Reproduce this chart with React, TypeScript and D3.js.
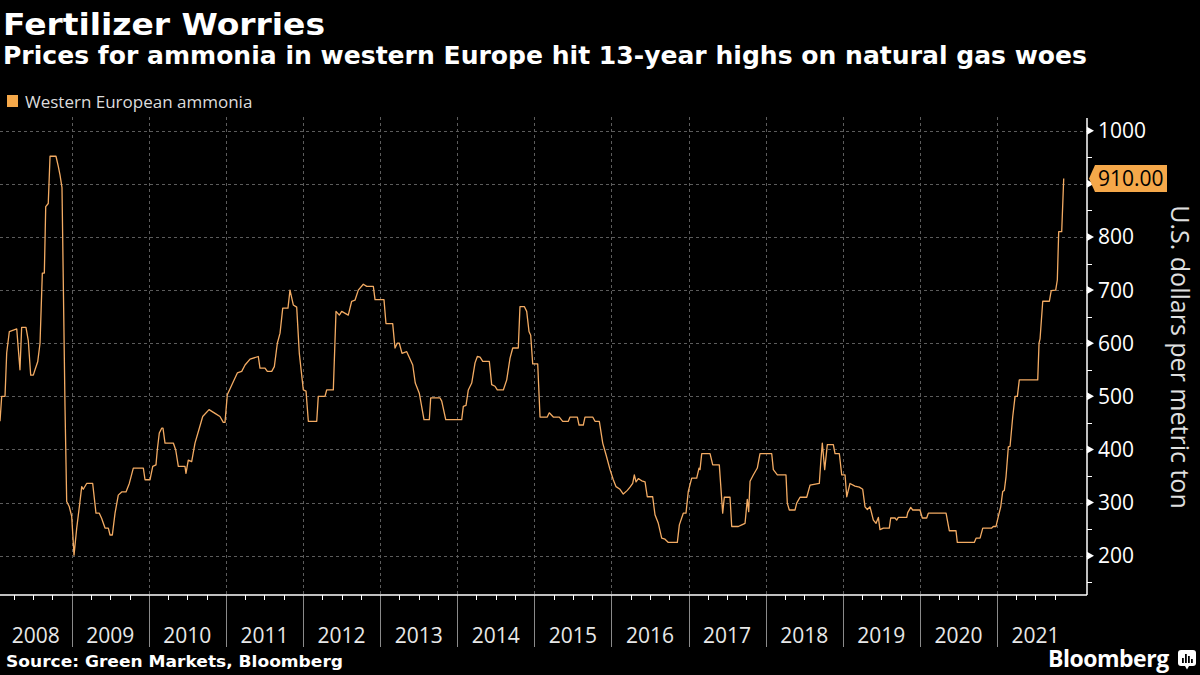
import React, { useEffect, useRef } from "react";
import * as d3 from "d3";

const title = "Fertilizer Worries";
const subtitle =
  "Prices for ammonia in western Europe hit 13-year highs on natural gas woes";
const legendLabel = "Western European ammonia";
const axisTitle = "U.S. dollars per metric ton";
const sourceNote = "Source: Green Markets, Bloomberg";

const yTicks = [200, 300, 400, 500, 600, 700, 800, 900, 1000];
const yearLabels = [
  2008, 2009, 2010, 2011, 2012, 2013, 2014, 2015, 2016, 2017, 2018, 2019, 2020, 2021,
];

// weekly price, [decimal year, USD per metric ton]
const ammonia: [number, number][] = [
  [2008.07, 453], [2008.092, 500], [2008.135, 500], [2008.157, 582], [2008.191, 622],
  [2008.287, 627], [2008.329, 550], [2008.351, 630], [2008.407, 630], [2008.437, 605],
  [2008.468, 540], [2008.502, 540], [2008.524, 550], [2008.559, 565], [2008.589, 600],
  [2008.619, 732], [2008.645, 732], [2008.663, 857], [2008.696, 863], [2008.719, 952],
  [2008.796, 952], [2008.826, 933], [2008.848, 917], [2008.874, 893], [2008.913, 481],
  [2008.935, 302], [2008.969, 292], [2009.0, 274], [2009.03, 201], [2009.065, 252],
  [2009.099, 292], [2009.13, 330], [2009.15, 325], [2009.194, 336], [2009.272, 336],
  [2009.315, 280], [2009.358, 280], [2009.389, 270], [2009.432, 252], [2009.475, 252],
  [2009.497, 239], [2009.527, 239], [2009.562, 280], [2009.604, 314], [2009.648, 320],
  [2009.704, 320], [2009.747, 336], [2009.799, 365], [2009.929, 365], [2009.951, 343],
  [2010.016, 343], [2010.051, 368], [2010.093, 371], [2010.11, 399], [2010.136, 431],
  [2010.167, 440], [2010.184, 440], [2010.21, 412], [2010.318, 412], [2010.349, 399],
  [2010.383, 368], [2010.469, 368], [2010.482, 355], [2010.512, 380], [2010.556, 377],
  [2010.599, 412], [2010.655, 440], [2010.699, 462], [2010.781, 475], [2010.859, 468],
  [2010.923, 462], [2010.966, 451], [2010.988, 451], [2011.018, 503], [2011.088, 525],
  [2011.148, 544], [2011.205, 547], [2011.248, 559], [2011.313, 570], [2011.42, 575],
  [2011.442, 553], [2011.507, 553], [2011.537, 547], [2011.594, 547], [2011.628, 556],
  [2011.667, 600], [2011.702, 619], [2011.737, 666], [2011.805, 666], [2011.831, 700],
  [2011.874, 672], [2011.918, 668], [2011.952, 581], [2012.004, 512], [2012.039, 510],
  [2012.069, 453], [2012.178, 453], [2012.198, 500], [2012.285, 500], [2012.307, 512],
  [2012.393, 512], [2012.428, 660], [2012.471, 653], [2012.502, 660], [2012.587, 653],
  [2012.631, 679], [2012.674, 681], [2012.717, 700], [2012.782, 711], [2012.826, 707],
  [2012.912, 707], [2012.934, 682], [2013.05, 682], [2013.076, 637], [2013.163, 637],
  [2013.193, 591], [2013.223, 600], [2013.249, 600], [2013.284, 581], [2013.345, 584],
  [2013.423, 559], [2013.456, 525], [2013.508, 506], [2013.569, 456], [2013.638, 456],
  [2013.656, 497], [2013.777, 497], [2013.799, 491], [2013.851, 456], [2014.058, 456],
  [2014.079, 481], [2014.114, 483], [2014.144, 512], [2014.188, 525], [2014.231, 563],
  [2014.261, 575], [2014.296, 574], [2014.331, 566], [2014.416, 566], [2014.447, 522],
  [2014.49, 519], [2014.52, 512], [2014.598, 512], [2014.642, 531], [2014.685, 572],
  [2014.72, 591], [2014.792, 591], [2014.814, 669], [2014.87, 669], [2014.901, 660],
  [2014.931, 622], [2014.953, 615], [2014.979, 561], [2015.044, 561], [2015.074, 461],
  [2015.168, 461], [2015.194, 469], [2015.246, 461], [2015.324, 461], [2015.368, 453],
  [2015.441, 453], [2015.463, 461], [2015.558, 461], [2015.58, 446], [2015.635, 446],
  [2015.657, 461], [2015.757, 461], [2015.787, 453], [2015.843, 453], [2015.887, 412],
  [2015.93, 390], [2015.982, 362], [2016.024, 343], [2016.06, 330], [2016.111, 325],
  [2016.154, 316], [2016.206, 323], [2016.241, 329], [2016.276, 336], [2016.297, 352],
  [2016.319, 339], [2016.349, 345], [2016.393, 341], [2016.436, 339], [2016.465, 311],
  [2016.535, 311], [2016.565, 277], [2016.608, 261], [2016.652, 233], [2016.695, 231],
  [2016.738, 225], [2016.855, 225], [2016.881, 258], [2016.932, 280], [2016.967, 280],
  [2016.997, 321], [2017.041, 346], [2017.106, 346], [2017.136, 365], [2017.149, 362],
  [2017.171, 392], [2017.279, 392], [2017.314, 371], [2017.399, 371], [2017.443, 280],
  [2017.464, 310], [2017.538, 310], [2017.56, 255], [2017.646, 255], [2017.69, 258],
  [2017.733, 261], [2017.762, 306], [2017.78, 283], [2017.798, 340], [2017.84, 352],
  [2017.892, 365], [2017.927, 392], [2018.079, 392], [2018.1, 362], [2018.152, 352],
  [2018.264, 352], [2018.281, 299], [2018.307, 286], [2018.381, 286], [2018.403, 299],
  [2018.446, 310], [2018.533, 310], [2018.576, 333], [2018.696, 336], [2018.714, 374],
  [2018.735, 412], [2018.766, 362], [2018.8, 409], [2018.878, 409], [2018.9, 392],
  [2018.956, 392], [2018.987, 352], [2019.03, 352], [2019.052, 311], [2019.094, 336],
  [2019.159, 331], [2019.215, 329], [2019.259, 325], [2019.289, 292], [2019.319, 287],
  [2019.354, 292], [2019.397, 267], [2019.432, 261], [2019.462, 272], [2019.483, 249],
  [2019.527, 252], [2019.604, 252], [2019.622, 271], [2019.678, 271], [2019.7, 267],
  [2019.721, 272], [2019.83, 272], [2019.843, 281], [2019.882, 291], [2019.908, 286],
  [2020.002, 286], [2020.032, 271], [2020.089, 271], [2020.11, 280], [2020.34, 280],
  [2020.382, 247], [2020.469, 247], [2020.486, 225], [2020.706, 225], [2020.729, 233],
  [2020.781, 233], [2020.816, 252], [2020.932, 252], [2020.953, 255], [2020.988, 255],
  [2021.018, 274], [2021.049, 292], [2021.075, 321], [2021.096, 323], [2021.118, 349],
  [2021.148, 405], [2021.17, 406], [2021.205, 462], [2021.235, 500], [2021.265, 500],
  [2021.29, 531], [2021.529, 531], [2021.546, 600], [2021.559, 608], [2021.594, 679],
  [2021.68, 679], [2021.704, 699], [2021.762, 700], [2021.783, 719], [2021.801, 810],
  [2021.84, 810], [2021.866, 910],
];

const FONT = "'Open Sans', 'DejaVu Sans', sans-serif";
const HEAD_FONT = "'DejaVu Sans', Verdana, sans-serif";
const ORANGE = "#f5a84a";

const App = () => {
  const svgRef = useRef<SVGSVGElement | null>(null);

  useEffect(() => {
    const svg = d3.select(svgRef.current);
    svg.selectAll("*").remove();

    const width = 1200;
    const height = 675;
    const plot = { left: 0, right: 1087, top: 118, bottom: 595 };

    svg.append("rect").attr("width", width).attr("height", height).attr("fill", "#000");

    const x = d3.scaleLinear().domain([2008.07, 2022.168]).range([plot.left, plot.right]);
    const y = d3.scaleLinear().domain([126, 1024]).range([plot.bottom, plot.top]);

    // Header
    svg.append("text")
      .attr("x", 3).attr("y", 35)
      .attr("fill", "#fff")
      .attr("textLength", 322).attr("lengthAdjust", "spacingAndGlyphs")
      .style("font-family", HEAD_FONT).style("font-weight", 700).style("font-size", "31px")
      .text(title);

    svg.append("text")
      .attr("x", 3).attr("y", 64)
      .attr("fill", "#fff")
      .attr("textLength", 1084).attr("lengthAdjust", "spacingAndGlyphs")
      .style("font-family", HEAD_FONT).style("font-weight", 700).style("font-size", "25px")
      .text(subtitle);

    // Legend
    svg.append("rect")
      .attr("x", 7).attr("y", 95).attr("width", 11).attr("height", 12)
      .attr("fill", ORANGE);
    svg.append("text")
      .attr("x", 25).attr("y", 107.5)
      .attr("fill", "#dcdcdc")
      .style("font-family", FONT).style("font-size", "17px")
      .text(legendLabel);

    // Grid
    const grid = svg.append("g")
      .attr("stroke", "#5c5c5c")
      .attr("stroke-width", 1)
      .attr("stroke-dasharray", "3,3");

    grid.selectAll("line.h")
      .data(yTicks)
      .join("line")
      .attr("class", "h")
      .attr("x1", plot.left).attr("x2", plot.right)
      .attr("y1", (d) => Math.round(y(d)) + 0.5).attr("y2", (d) => Math.round(y(d)) + 0.5);

    const yearBounds = yearLabels.slice(1);
    grid.selectAll("line.v")
      .data(yearBounds)
      .join("line")
      .attr("class", "v")
      .attr("x1", (d) => Math.round(x(d)) + 0.5).attr("x2", (d) => Math.round(x(d)) + 0.5)
      .attr("y1", plot.top - 1).attr("y2", plot.bottom);

    // Bottom axis: quarter ticks, year separators, centred year labels
    const xAxis = svg.append("g");
    const quarters: number[] = [];
    for (let yr = 2008; yr <= 2022; yr++) {
      for (const q of [0.25, 0.5, 0.75]) {
        const v = yr + q;
        if (v > x.domain()[0] && v < x.domain()[1]) quarters.push(v);
      }
    }
    xAxis.selectAll("line.q")
      .data(quarters)
      .join("line")
      .attr("class", "q")
      .attr("x1", (d) => Math.round(x(d)) + 0.5).attr("x2", (d) => Math.round(x(d)) + 0.5)
      .attr("y1", plot.bottom).attr("y2", plot.bottom + 5)
      .attr("stroke", "#fff").attr("stroke-width", 1);

    xAxis.selectAll("line.sep")
      .data(yearBounds)
      .join("line")
      .attr("class", "sep")
      .attr("x1", (d) => Math.round(x(d)) + 0.5).attr("x2", (d) => Math.round(x(d)) + 0.5)
      .attr("y1", plot.bottom).attr("y2", 647)
      .attr("stroke", "#8a8a8a").attr("stroke-width", 1);

    xAxis.append("line")
      .attr("x1", plot.left).attr("x2", plot.right)
      .attr("y1", plot.bottom).attr("y2", plot.bottom)
      .attr("stroke", "#fff").attr("stroke-width", 1.5);

    xAxis.selectAll("text.yr")
      .data(yearLabels)
      .join("text")
      .attr("class", "yr")
      .attr("x", (d) => {
        const a = Math.max(x.domain()[0], d);
        const b = Math.min(x.domain()[1], d + 1);
        return (x(a) + x(b)) / 2;
      })
      .attr("y", 643)
      .attr("text-anchor", "middle")
      .attr("fill", "#e8e8e8")
      .style("font-family", FONT).style("font-size", "21px")
      .text((d) => d);

    // Right axis
    const last = ammonia[ammonia.length - 1];
    const ly = y(last[1]);

    const yAxis = svg.append("g");
    yAxis.append("line")
      .attr("x1", plot.right).attr("x2", plot.right)
      .attr("y1", plot.top).attr("y2", plot.bottom)
      .attr("stroke", "#fff").attr("stroke-width", 1.5);

    const minor = d3.range(150, 1001, 100);
    yAxis.selectAll("line.minor")
      .data(minor)
      .join("line")
      .attr("class", "minor")
      .attr("x1", plot.right).attr("x2", plot.right + 5)
      .attr("y1", (d) => Math.round(y(d)) + 0.5).attr("y2", (d) => Math.round(y(d)) + 0.5)
      .attr("stroke", "#fff").attr("stroke-width", 1);

    yAxis.selectAll("path.major")
      .data(yTicks)
      .join("path")
      .attr("class", "major")
      .attr("d", (d) => {
        const yy = y(d);
        return `M${plot.right},${yy - 4}L${plot.right + 7},${yy}L${plot.right},${yy + 4}Z`;
      })
      .attr("fill", "#fff");

    // tick labels hidden behind the last-value tag are dropped
    yAxis.selectAll("text.tick")
      .data(yTicks.filter((d) => Math.abs(y(d) - ly) > 22))
      .join("text")
      .attr("class", "tick")
      .attr("x", 1098)
      .attr("y", (d) => y(d) + 7.5)
      .attr("fill", "#fff")
      .style("font-family", FONT).style("font-size", "21px")
      .text((d) => d);

    svg.append("text")
      .attr("transform", `translate(1171, 357) rotate(90)`)
      .attr("text-anchor", "middle")
      .attr("fill", "#e0e0e0")
      .style("font-family", FONT).style("font-size", "25px")
      .text(axisTitle);

    // Price line
    const line = d3.line<[number, number]>()
      .x((d) => x(d[0]))
      .y((d) => y(d[1]));

    svg.append("path")
      .datum(ammonia)
      .attr("fill", "none")
      .attr("stroke", "#f3ab63")
      .attr("stroke-width", 1.3)
      .attr("stroke-linejoin", "round")
      .attr("d", line);

    // Last value tag
    svg.append("path")
      .attr("d", `M1089,${ly}L1095,${ly - 13.5}L1167,${ly - 13.5}L1167,${ly + 13.5}L1095,${ly + 13.5}Z`)
      .attr("fill", ORANGE);
    svg.append("text")
      .attr("x", 1098).attr("y", ly + 7.5)
      .attr("fill", "#000")
      .style("font-family", FONT).style("font-size", "21px")
      .text(last[1].toFixed(2));

    // Footer
    svg.append("text")
      .attr("x", 6).attr("y", 667)
      .attr("fill", "#fff")
      .attr("textLength", 337).attr("lengthAdjust", "spacingAndGlyphs")
      .style("font-family", HEAD_FONT).style("font-weight", 700).style("font-size", "16px")
      .text(sourceNote);

    svg.append("text")
      .attr("x", 1048).attr("y", 667)
      .attr("fill", "#fff")
      .style("font-family", FONT).style("font-weight", 700).style("font-size", "23px")
      .style("letter-spacing", "-0.5px")
      .text("Bloomberg");

    const logo = svg.append("g").attr("transform", "translate(1178,650)");
    logo.append("rect").attr("width", 18).attr("height", 16).attr("rx", 3).attr("fill", "#fff");
    logo.append("path").attr("d", "M7,16L9,19.5L11,16Z").attr("fill", "#fff");
    [[4, 8], [7, 4], [10, 6], [13, 9]].forEach(([bx, by]) => {
      logo.append("rect")
        .attr("x", bx).attr("y", by).attr("width", 1.8).attr("height", 13 - by)
        .attr("fill", "#000");
    });
  }, []);

  return (
    <svg
      ref={svgRef}
      width={1200}
      height={675}
      style={{ position: "absolute", left: 0, top: 0, display: "block" }}
    />
  );
};

export default App;
